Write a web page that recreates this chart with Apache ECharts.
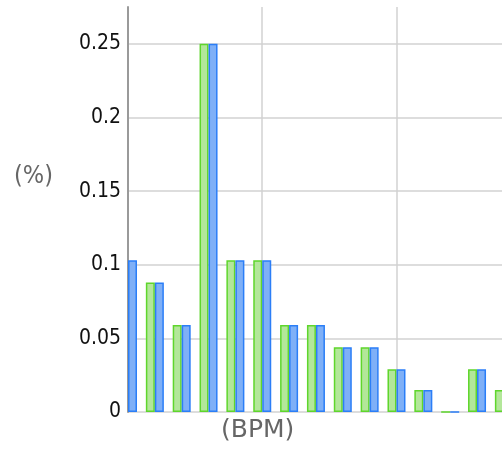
<!DOCTYPE html>
<html><head><meta charset="utf-8">
<script src="https://cdn.jsdelivr.net/npm/echarts@6/dist/echarts.min.js"></script>
<style>html,body{margin:0;padding:0;background:#fff}#c{width:502px;height:450px}</style>
</head><body><div id="c"></div>
<script>
// bin positions (pair index) and share per bin; first green bar is hidden behind the axis
const bins = [0,1,2,3,4,5,6,7,8,9,10,11,12,13,14];
const greenValues = [null,0.088,0.059,0.25,0.103,0.103,0.059,0.059,0.044,0.044,0.029,0.015,0,0.029,0.015];
const blueValues  = [0.103,0.088,0.059,0.25,0.103,0.103,0.059,0.059,0.044,0.044,0.029,0.015,0,0.029,0.015];
const yTicks = [0,0.05,0.1,0.15,0.2,0.25];
const yName = '(%)';
const xName = '(BPM)';

const FONT = '"DejaVu Sans Condensed","DejaVu Sans",sans-serif';
const chart = echarts.init(document.getElementById('c'));
chart.setOption({
  animation:false,
  grid:{left:128,right:0,top:7,bottom:38,containLabel:false},
  xAxis:{type:'value',min:0,max:13.93,interval:5,
    axisLine:{show:false},axisTick:{show:false},axisLabel:{show:false},
    splitLine:{show:true,lineStyle:{color:['#d2d2d2','#d2d2d2','#d2d2d2','rgba(0,0,0,0)'],width:1.5}}},
  yAxis:{type:'value',min:0,max:0.275,interval:0.05,
    axisLine:{show:true,lineStyle:{color:'#9a9a9a',width:2}},
    axisTick:{show:false},
    axisLabel:{color:'#111',fontSize:21,fontFamily:FONT,margin:7,showMaxLabel:false,
      formatter:v=>yTicks.some(t=>Math.abs(t-v)<1e-9)?String(+v.toFixed(2)):''},
    splitLine:{show:true,lineStyle:{color:['#d2d2d2','#d2d2d2','#d2d2d2','#d2d2d2','#d2d2d2','#d2d2d2','rgba(0,0,0,0)'],width:1.5}}},
  series:[
    {type:'bar',name:'A',data:bins.map((b,i)=>[b,greenValues[i]]),barWidth:9,barGap:'0%',clip:true,
     itemStyle:{color:'#b3e79a',borderColor:'#5fd62c',borderWidth:1.5}},
    {type:'bar',name:'B',data:bins.map((b,i)=>[b,blueValues[i]]),barWidth:9,barGap:'0%',clip:true,
     itemStyle:{color:'#7fb0f7',borderColor:'#2b7ef7',borderWidth:1.5}}
  ],
  graphic:[
    {type:'text',left:14,top:164,style:{text:yName,fontSize:25,fontFamily:FONT,fill:'#666'}},
    {type:'text',left:221,top:418,style:{text:xName,fontSize:25,fontFamily:'"DejaVu Sans"',fill:'#666'}}
  ]
});
</script></body></html>
